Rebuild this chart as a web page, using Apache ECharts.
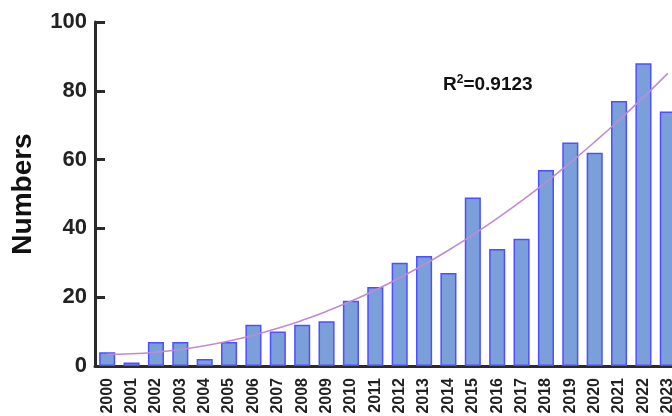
<!DOCTYPE html>
<html>
<head>
<meta charset="utf-8">
<script src="https://cdn.jsdelivr.net/npm/echarts@6/dist/echarts.min.js"></script>
<style>
html, body { margin: 0; padding: 0; background: #fff; }
#chart { width: 672px; height: 416px; }
</style>
</head>
<body>
<div id="chart"></div>
<script>
// Publications per year
const years = ['2000','2001','2002','2003','2004','2005','2006','2007','2008','2009','2010','2011',
               '2012','2013','2014','2015','2016','2017','2018','2019','2020','2021','2022','2023'];
const counts = [4, 1, 7, 7, 2, 7, 12, 10, 12, 13, 19, 23, 30, 32, 27, 49, 34, 37, 57, 65, 62, 77, 88, 74];
const yTicks = [0, 20, 40, 60, 80, 100];
const fitLabel = '0.9123';

// Second-order least-squares trend through the yearly counts
function quadFit(ys) {
  let s = [0, 0, 0, 0, 0], t = [0, 0, 0];
  ys.forEach((y, i) => {
    let p = 1;
    for (let k = 0; k < 5; k++) { s[k] += p; if (k < 3) t[k] += p * y; p *= i; }
  });
  const A = [[s[0], s[1], s[2]], [s[1], s[2], s[3]], [s[2], s[3], s[4]]];
  const det = m => m[0][0]*(m[1][1]*m[2][2]-m[1][2]*m[2][1]) - m[0][1]*(m[1][0]*m[2][2]-m[1][2]*m[2][0]) + m[0][2]*(m[1][0]*m[2][1]-m[1][1]*m[2][0]);
  const D = det(A);
  const coef = [0, 1, 2].map(c => det(A.map((row, r) => row.map((v, j) => j === c ? t[r] : v))) / D);
  return ys.map((_, i) => coef[0] + coef[1] * i + coef[2] * i * i);
}
const trend = quadFit(counts);

const chart = echarts.init(document.getElementById('chart'), null, { renderer: 'canvas' });
const axisColor = '#2b2b2b';
const font = 'Liberation Sans, Arial, sans-serif';
chart.setOption({
  animation: false,
  grid: { left: 95, top: 22, width: 585, height: 344, containLabel: false, outerBoundsMode: 'none' },
  xAxis: {
    type: 'category',
    data: years,
    boundaryGap: true,
    axisLine: { lineStyle: { color: axisColor, width: 3 } },
    axisTick: { alignWithLabel: true, length: 9, lineStyle: { color: axisColor, width: 3 } },
    axisLabel: { rotate: 90, color: '#222', fontFamily: font, fontSize: 16, fontWeight: 'bold', margin: 12, interval: 0 }
  },
  yAxis: {
    type: 'value',
    min: yTicks[0], max: yTicks[yTicks.length - 1], interval: 20,
    name: 'Numbers', nameLocation: 'middle', nameGap: 58, nameRotate: 90,
    nameTextStyle: { color: '#111', fontFamily: font, fontSize: 28, fontWeight: 'bold' },
    splitLine: { show: false },
    axisLine: { show: true, lineStyle: { color: axisColor, width: 3 } },
    axisTick: { show: true, inside: true, length: 10, lineStyle: { color: axisColor, width: 3 } },
    axisLabel: { color: '#222', fontFamily: font, fontSize: 22, fontWeight: 'bold', margin: 8 }
  },
  series: [
    {
      type: 'bar',
      data: counts,
      barWidth: '66%',
      itemStyle: { color: '#7b9fd8', borderColor: '#4f4fff', borderWidth: 1.5 }
    },
    {
      type: 'line',
      data: trend,
      smooth: true,
      symbol: 'none',
      lineStyle: { color: '#c08ad6', width: 1.6 },
      z: 3
    }
  ],
  graphic: [{
    type: 'text',
    left: 443, top: 74,
    style: {
      text: '{b|R}{s|2}{b|=' + fitLabel + '}',
      rich: {
        b: { fontFamily: font, fontSize: 19, fontWeight: 'bold', fill: '#111', verticalAlign: 'bottom' },
        s: { fontFamily: font, fontSize: 12, fontWeight: 'bold', fill: '#111', padding: [0, 0, 8, 0] }
      }
    }
  }]
});
</script>
</body>
</html>
